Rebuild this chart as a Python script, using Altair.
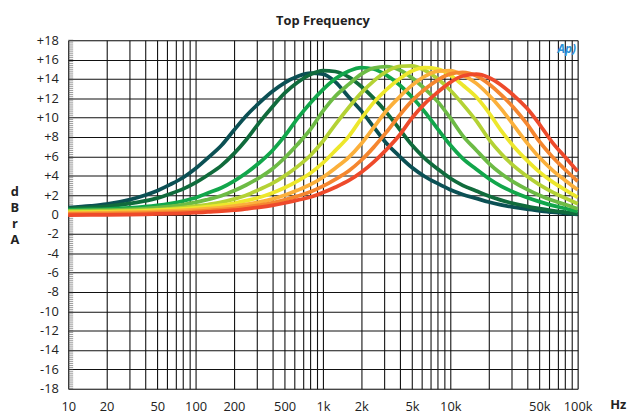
import altair as alt
import pandas as pd

freqs = [10, 15, 20, 30, 40, 50, 63, 80,
         100, 125, 160, 200, 250, 315, 400, 500, 630, 800,
         1000, 1250, 1600, 2000, 2500, 3150, 4000, 5000, 6300, 8000,
         10000, 12500, 16000, 20000, 25000, 31500, 40000, 50000, 63000, 80000,
         100000]

c1 = [0.71, 0.88, 1.06, 1.51, 1.99, 2.46, 3.08, 3.82, 4.75, 5.85, 7.15, 8.7, 10.2, 11.5, 12.7, 13.6, 14.25, 14.6, 14.5, 13.7, 12.1, 10.7, 9.05, 7.35, 6.0, 4.85, 3.92, 3.18, 2.56, 2.07, 1.66, 1.29, 0.99, 0.75, 0.54, 0.38, 0.23, 0.11, 0.02]
c2 = [0.60, 0.72, 0.84, 1.11, 1.40, 1.69, 2.12, 2.64, 3.29, 4.08, 5.07, 6.28, 7.72, 9.46, 11.1, 12.53, 13.64, 14.47, 14.87, 14.77, 14.19, 13.22, 12.02, 10.55, 8.8, 7.17, 5.8, 4.68, 3.74, 3.01, 2.42, 1.90, 1.48, 1.13, 0.84, 0.61, 0.39, 0.22, 0.05]
c3 = [0.48, 0.52, 0.56, 0.67, 0.80, 0.94, 1.13, 1.39, 1.73, 2.22, 2.76, 3.45, 4.28, 5.32, 6.59, 8.09, 9.9, 11.55, 12.9, 14.02, 14.82, 15.18, 15.03, 14.39, 13.37, 12.13, 10.6, 8.79, 7.17, 5.79, 4.67, 3.72, 2.93, 2.30, 1.76, 1.33, 0.94, 0.62, 0.30]
c4 = [0.38, 0.41, 0.44, 0.52, 0.61, 0.71, 0.84, 1.02, 1.24, 1.55, 1.93, 2.44, 3.04, 3.78, 4.7, 5.83, 7.22, 8.81, 10.67, 12.21, 13.46, 14.49, 15.13, 15.28, 14.92, 14.11, 12.99, 11.63, 9.97, 8.15, 6.64, 5.31, 4.22, 3.34, 2.59, 1.98, 1.46, 1.02, 0.58]
c5 = [0.31, 0.33, 0.35, 0.39, 0.45, 0.50, 0.59, 0.70, 0.85, 1.03, 1.27, 1.59, 1.98, 2.57, 3.21, 3.98, 4.94, 6.12, 7.56, 9.29, 11.08, 12.56, 13.78, 14.75, 15.31, 15.36, 14.9, 14.0, 12.83, 11.4, 9.66, 7.82, 6.3, 5.02, 3.95, 3.09, 2.34, 1.69, 1.11]
c6 = [0.21, 0.24, 0.27, 0.32, 0.37, 0.44, 0.50, 0.57, 0.68, 0.80, 0.96, 1.16, 1.43, 1.75, 2.22, 2.76, 3.45, 4.28, 5.32, 6.59, 8.09, 9.9, 11.55, 12.9, 14.02, 14.82, 15.18, 15.03, 14.39, 13.37, 12.13, 10.55, 8.69, 7.03, 5.59, 4.40, 3.39, 2.53, 1.76]
c7 = [0.15, 0.16, 0.19, 0.23, 0.27, 0.31, 0.36, 0.43, 0.51, 0.60, 0.72, 0.87, 1.05, 1.29, 1.59, 1.98, 2.49, 3.1, 3.85, 4.78, 5.92, 7.31, 8.98, 10.71, 12.15, 13.33, 14.27, 14.81, 14.86, 14.41, 13.54, 12.36, 10.93, 9.2, 7.40, 5.9, 4.61, 3.51, 2.54]
c8 = [0.06, 0.07, 0.08, 0.12, 0.15, 0.18, 0.22, 0.26, 0.33, 0.40, 0.49, 0.61, 0.77, 0.97, 1.21, 1.52, 1.89, 2.34, 2.92, 3.63, 4.52, 5.6, 6.93, 8.5, 10.25, 11.73, 12.93, 13.91, 14.53, 14.68, 14.33, 13.5, 12.37, 11.03, 9.36, 7.54, 5.99, 4.62, 3.43]
c9 = [-0.06, -0.05, -0.04, -0.01, 0.02, 0.05, 0.08, 0.12, 0.18, 0.26, 0.34, 0.44, 0.58, 0.74, 0.94, 1.18, 1.48, 1.80, 2.26, 2.81, 3.51, 4.36, 5.41, 6.7, 8.21, 9.96, 11.45, 12.65, 13.65, 14.3, 14.49, 14.15, 13.38, 12.29, 10.96, 9.34, 7.48, 5.9, 4.45]

series = [c1, c2, c3, c4, c5, c6, c7, c8, c9]
names = ["c1", "c2", "c3", "c4", "c5", "c6", "c7", "c8", "c9"]
colors = ["#0b5054", "#106b3c", "#12a64b", "#6dbb45", "#b4d235", "#ede72c",
          "#fbb03b", "#f5862f", "#ee4a2b"]

x_grid = [m * 10 ** e for e in range(1, 5) for m in range(1, 10)] + [100000]
x_labels = [10, 20, 50, 100, 200, 500, 1000, 2000, 5000, 10000, 50000, 100000]
y_ticks = list(range(-18, 19, 2))
y_minor = [round(-18 + 0.2 * i, 1) for i in range(181)]

rows = []
for n, s in zip(names, series):
    for f, v in zip(freqs, s):
        rows.append({"f": f, "db": v, "s": n})
df = pd.DataFrame(rows)

W, H = 516, 353
FONT = "Open Sans"
GRID = "#111111"

lab_arr = "[" + ",".join(str(v) for v in x_labels) + "]"
x_expr = ("indexof(" + lab_arr + ", datum.value) >= 0 ? "
          "(datum.value >= 1000 ? (datum.value / 1000) + 'k' : '' + datum.value) : ''")

yscale = alt.Scale(domain=[-18, 18], nice=False)
yaxis = alt.Axis(values=y_ticks,
                 labelExpr="datum.value > 0 ? '+' + datum.value : '' + datum.value",
                 grid=True, gridColor=GRID, gridWidth=1.1, ticks=False,
                 domain=False, labelFontSize=13, labelPadding=10,
                 labelFlush=False, labelOverlap=False, labelColor="#222",
                 labelFont=FONT, title=None)

xenc = alt.X("f:Q",
             scale=alt.Scale(type="log", domain=[10, 100000], nice=False),
             axis=alt.Axis(values=x_grid, labelExpr=x_expr, grid=True,
                           gridColor=GRID, gridWidth=1.1, ticks=False,
                           domain=False, labelFontSize=13, labelPadding=12,
                           labelFlush=False, labelOverlap=False, labelBound=False,
                           labelColor="#222", labelFont=FONT, title=None))

lines = alt.Chart(df).mark_line(strokeWidth=3.8, interpolate="monotone").encode(
    x=xenc,
    y=alt.Y("db:Q", scale=yscale, axis=yaxis),
    color=alt.Color("s:N", scale=alt.Scale(domain=names, range=colors), legend=None),
    order=alt.Order("f:Q"),
)

minor = alt.Chart(pd.DataFrame({"v": y_minor})).mark_rule(color="#555", strokeWidth=0.6).encode(
    y=alt.Y("v:Q", scale=yscale, axis=yaxis),
    x=alt.value(0), x2=alt.value(5),
)

title = alt.Chart(pd.DataFrame({"t": ["Top Frequency"]})).mark_text(
    fontSize=13, fontWeight="bold", font=FONT, color="#222", align="center",
    baseline="alphabetic").encode(text="t:N", x=alt.value(W / 2), y=alt.value(-15))

ylab = alt.Chart(pd.DataFrame({"t": ["d\nB\nr\nA"]})).mark_text(
    fontSize=13, fontWeight="bold", font=FONT, color="#222", align="center",
    baseline="alphabetic", lineBreak="\n", lineHeight=16).encode(
    text="t:N", x=alt.value(-54), y=alt.value(158))

hz = alt.Chart(pd.DataFrame({"t": ["Hz"]})).mark_text(
    fontSize=13, fontWeight="bold", font=FONT, color="#222", align="left",
    baseline="alphabetic").encode(text="t:N", x=alt.value(549), y=alt.value(374))

logo = alt.Chart(pd.DataFrame({"t": ["Ap)"]})).mark_text(
    fontSize=12, fontWeight="bold", fontStyle="italic", font=FONT, color="#2a8fd6",
    align="center", baseline="alphabetic").encode(
    text="t:N", x=alt.value(505), y=alt.value(13))

chart = alt.layer(minor, lines, title, ylab, hz, logo).properties(
    width=W, height=H,
    autosize=alt.AutoSizeParams(type="none"),
    padding={"left": 61, "top": 30, "right": 51, "bottom": 24},
).configure_view(
    fill="#f1f2f4", stroke="#8a8a8a", strokeWidth=1.5
).configure(background="white")

chart.save("out.html", embed_options={"renderer": "svg", "actions": False})
